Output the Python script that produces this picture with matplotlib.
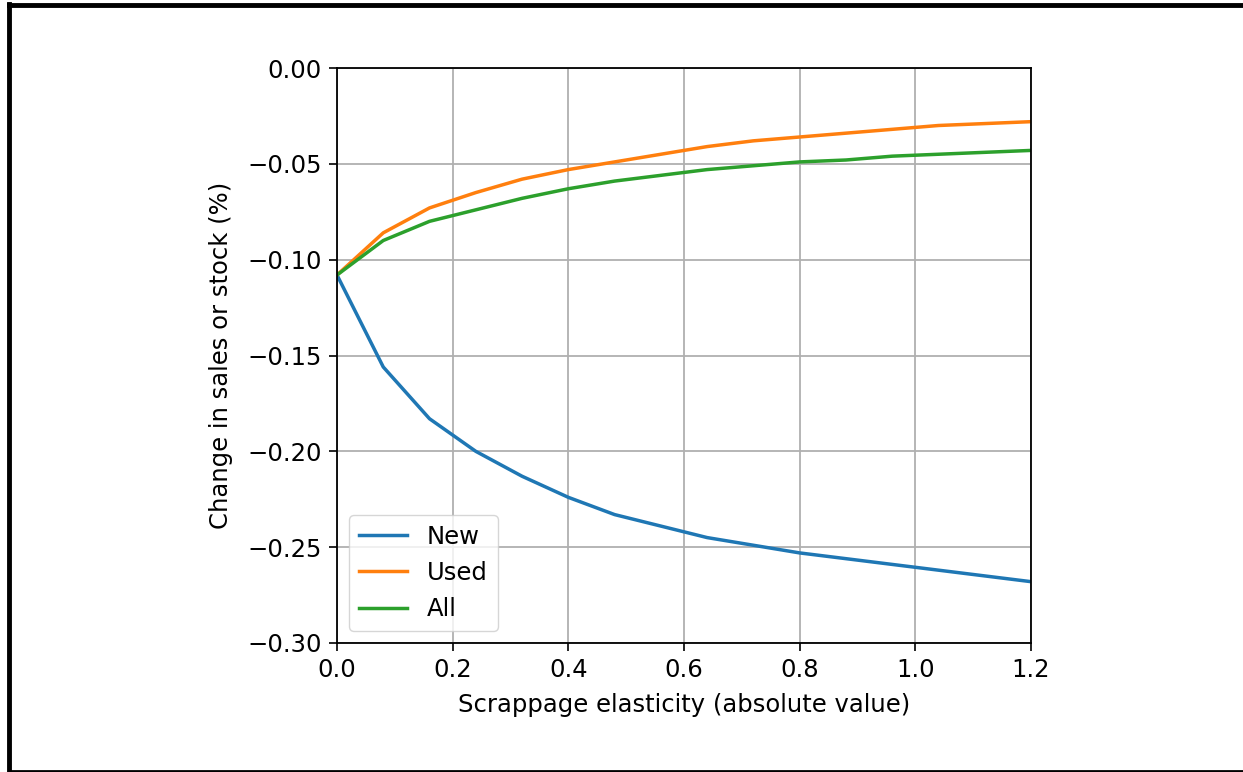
import numpy as np
import matplotlib.pyplot as plt
from matplotlib.lines import Line2D

# Datos
elasticity = [0.0, 0.08, 0.16, 0.24, 0.32, 0.40, 0.48, 0.56,
              0.64, 0.72, 0.80, 0.88, 0.96, 1.04, 1.12, 1.20]
new = [-0.108, -0.156, -0.183, -0.200, -0.213, -0.224, -0.233, -0.239,
       -0.245, -0.249, -0.253, -0.256, -0.259, -0.262, -0.265, -0.268]
used = [-0.108, -0.086, -0.073, -0.065, -0.058, -0.053, -0.049, -0.045,
        -0.041, -0.038, -0.036, -0.034, -0.032, -0.030, -0.029, -0.028]
all_ = [-0.108, -0.090, -0.080, -0.074, -0.068, -0.063, -0.059, -0.056,
        -0.053, -0.051, -0.049, -0.048, -0.046, -0.045, -0.044, -0.043]
xticks = [0.0, 0.2, 0.4, 0.6, 0.8, 1.0, 1.2]
yticks = [-0.30, -0.25, -0.20, -0.15, -0.10, -0.05, 0.0]

fs = 17.5
fig = plt.figure(figsize=(12.43, 7.72), dpi=100)
ax = fig.add_axes([337/1243, 1 - 643/772, 694/1243, 575/772])

ax.plot(elasticity, new, color='#1f77b4', lw=2.5, label='New')
ax.plot(elasticity, used, color='#ff7f0e', lw=2.5, label='Used')
ax.plot(elasticity, all_, color='#2ca02c', lw=2.5, label='All')

ax.set_xlim(0, 1.2)
ax.set_ylim(-0.30, 0.0)
ax.set_xticks(xticks)
ax.set_yticks(yticks)
ax.tick_params(labelsize=fs, length=6, width=1.2, pad=5)
ax.grid(True, color='#b0b0b0', lw=1.3)
for s in ax.spines.values():
    s.set_linewidth(1.3)

ax.set_xlabel('Scrappage elasticity (absolute value)', fontsize=fs, labelpad=8)
ax.set_ylabel('Change in sales or stock (%)', fontsize=fs, labelpad=10)
ax.legend(loc='lower left', fontsize=fs)

# Marco
fig.add_artist(Line2D([9/1243, 9/1243], [0, 1 - 4/772], color='black', lw=3.5, transform=fig.transFigure))
fig.add_artist(Line2D([9/1243, 1], [1 - 4.5/772, 1 - 4.5/772], color='black', lw=3.5, transform=fig.transFigure))
fig.add_artist(Line2D([9/1243, 1], [1.2/772, 1.2/772], color='black', lw=2, transform=fig.transFigure))

fig.savefig('out.png', dpi=100)
